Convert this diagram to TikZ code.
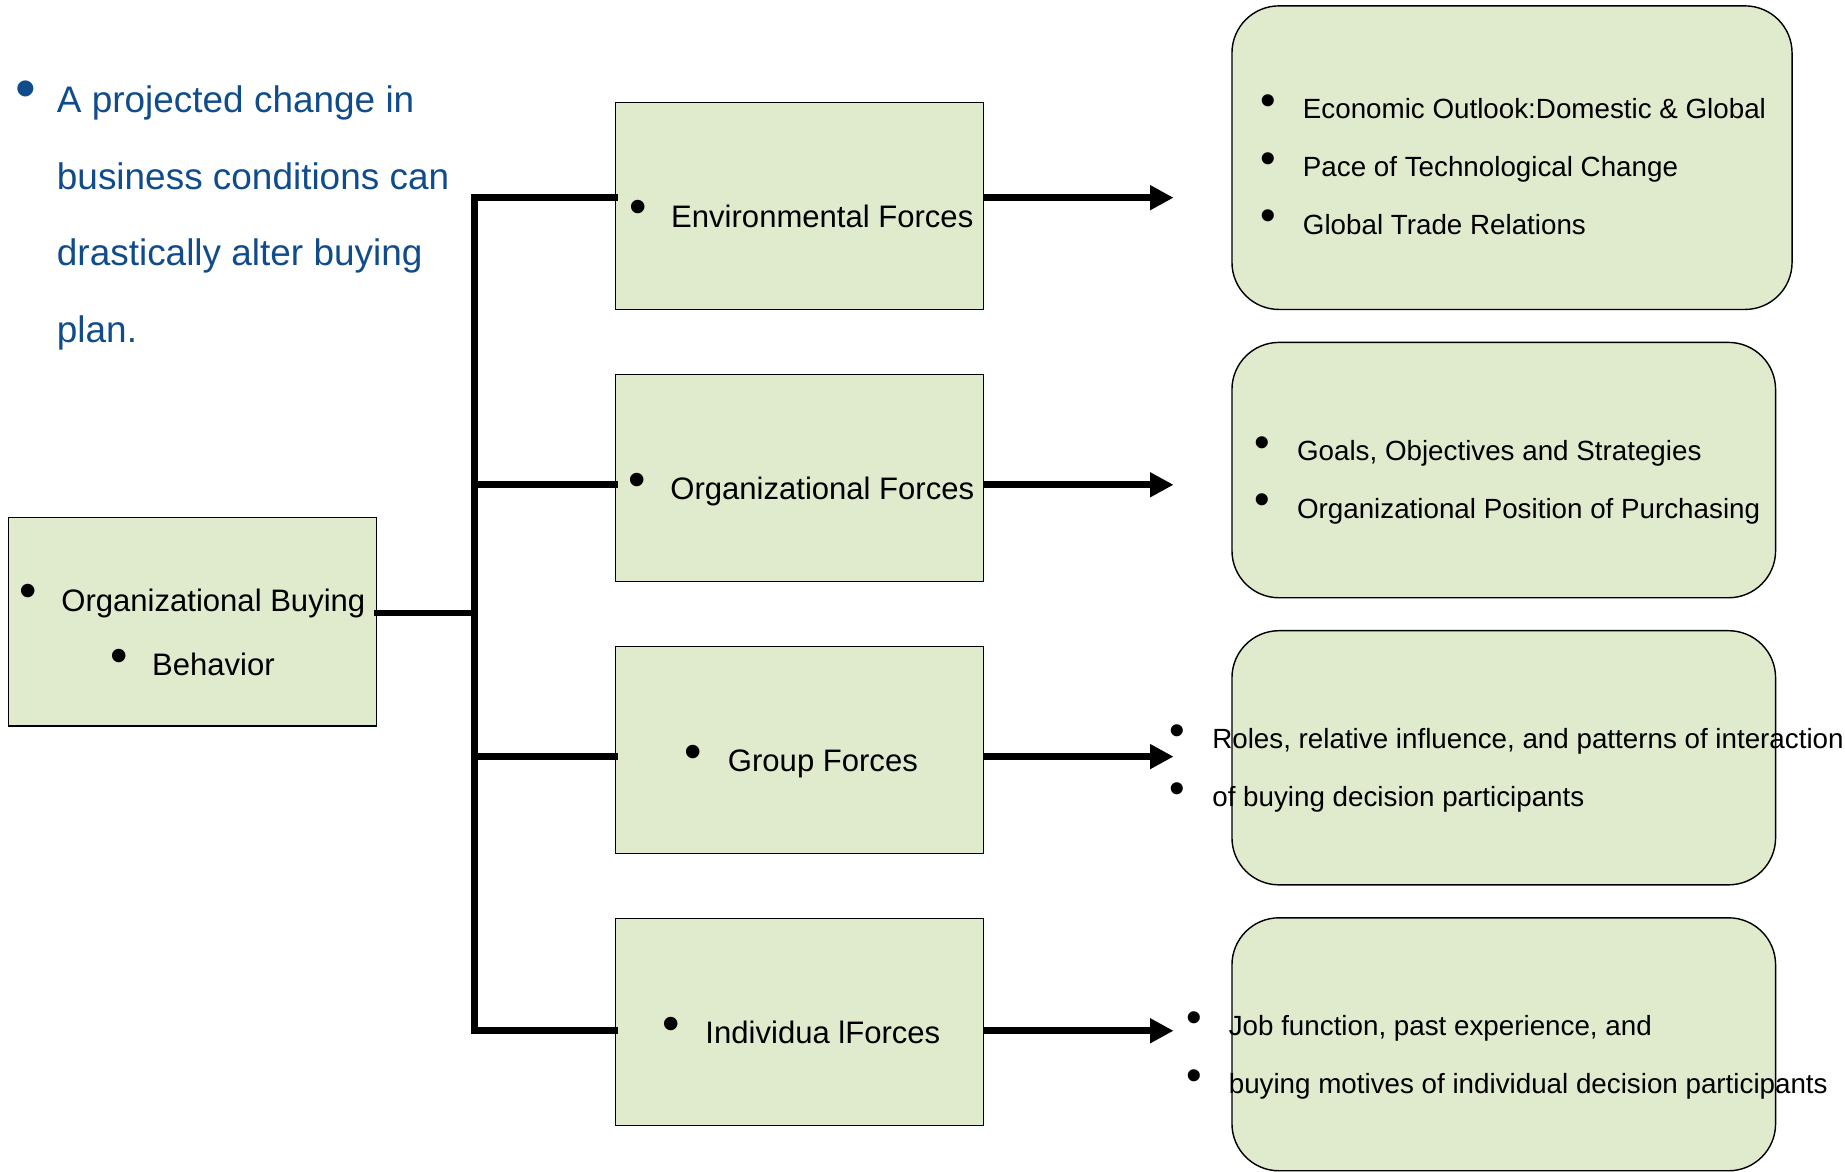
\documentclass[tikz,border=0pt]{standalone}
\usepackage{fontspec}
\setmainfont{Liberation Sans}
\usepackage{tikz}
\usetikzlibrary{positioning, arrows.meta}
\definecolor{boxgreen}{RGB}{224,234,205}
\definecolor{noteblue}{RGB}{16,76,140}
\newcommand{\bul}{\raisebox{0.12em}{\scalebox{1.6}{\textbullet}}}
\newcommand{\litem}{\bul\hspace{0.97em}}

\begin{document}
\begin{tikzpicture}[x=1pt, y=-1pt,
    forcebox/.style={rectangle, draw, line width=1.2pt, fill=boxgreen, minimum width=313pt, minimum height=176pt, inner sep=0pt},
    listbox/.style={forcebox, rounded corners=40pt, minimum width=462pt},
    listtext/.style={anchor=west, inner sep=0pt, align=left, font=\fontsize{23.6}{49}\selectfont},
    forcetext/.style={anchor=base, xshift=1.5pt, yshift=-18.5pt, font=\fontsize{26.4}{30}\selectfont},
    trunk/.style={line width=5.8pt, line cap=rect},
    flow/.style={line width=5.8pt, -{Triangle[length=20pt, width=20pt]}, shorten >=49pt}]
    \useasboundingbox (0,0) rectangle (1568,996);

    % Note at top left
    \node[anchor=west, inner sep=0pt, text=noteblue, font=\fontsize{31.4}{65}\selectfont] (note) at (12.6,180.5)
      {\begin{tabular}{@{}l@{\hspace{18pt}}l@{}}
        \bul & A projected change in\\
             & business conditions can\\
             & drastically alter buying\\
             & plan.
      \end{tabular}};

    % Buying behavior box
    \node[forcebox, minimum height=177pt] (buying) at (163.5,528.5) {};
    \node[align=center, font=\fontsize{26.4}{55}\selectfont, yshift=-7pt] (buyingtext) at (buying)
      {\bul\hspace{0.79em}Organizational Buying\\\bul\hspace{0.79em}Behavior};

    % Force boxes
    \node[forcebox] (env) at (679.5,175) {};
    \node[forcebox, below=54pt of env] (org) {};
    \node[forcebox, below=54pt of org] (group) {};
    \node[forcebox, below=54pt of group] (indiv) {};
    \node[forcetext] (envtext) at (env) {\bul\hspace{0.79em}Environmental Forces};
    \node[forcetext] (orgtext) at (org) {\bul\hspace{0.79em}Organizational Forces};
    \node[forcetext] (grouptext) at (group) {\bul\hspace{0.83em}Group Forces};
    \node[forcetext] (indivtext) at (indiv) {\bul\hspace{0.83em}Individua lForces};

    % Detail boxes
    \node[listbox, minimum width=476pt, minimum height=258pt] (econ) at (1285,134) {};
    \node[listbox, minimum height=217pt] (goals) at (1278,399.5) {};
    \node[listbox, minimum height=216pt] (roles) at (1278,644) {};
    \node[listbox, minimum height=215pt] (job) at (1278,887.5) {};
    \node[listtext] (econtext) at (1071,140)
      {\litem Economic Outlook:Domestic \& Global\\\litem Pace of Technological Change\\\litem Global Trade Relations};
    \node[listtext] (goalstext) at (1066,408)
      {\litem Goals, Objectives and Strategies\\\litem Organizational Position of Purchasing};
    \node[listtext] (rolestext) at (994,653)
      {\litem Roles, relative influence, and patterns of interaction\\\litem of buying decision participants};
    \node[listtext] (jobtext) at (1008,897)
      {\litem Job function, past experience, and\\\litem buying motives of individual decision participants};

    % Trunk and branches
    \coordinate (hub) at (403,521);
    \coordinate (tenv) at (403,168);
    \coordinate (torg) at (403,412);
    \coordinate (tgroup) at (403,643);
    \coordinate (tindiv) at (403,876);
    \draw[trunk] (buying.east |- hub) -- (hub);
    \draw[trunk] (tenv) -- (tindiv);
    \draw[trunk] (tenv) -- (tenv -| env.west);
    \draw[trunk] (torg) -- (torg -| org.west);
    \draw[trunk] (tgroup) -- (tgroup -| group.west);
    \draw[trunk] (tindiv) -- (tindiv -| indiv.west);

    % Arrows to details
    \draw[flow] (env.east |- tenv) -- (econ.west |- tenv);
    \draw[flow] (org.east |- torg) -- (goals.west |- torg);
    \draw[flow] (group.east |- tgroup) -- (roles.west |- tgroup);
    \draw[flow] (indiv.east |- tindiv) -- (job.west |- tindiv);
\end{tikzpicture}
\end{document}
